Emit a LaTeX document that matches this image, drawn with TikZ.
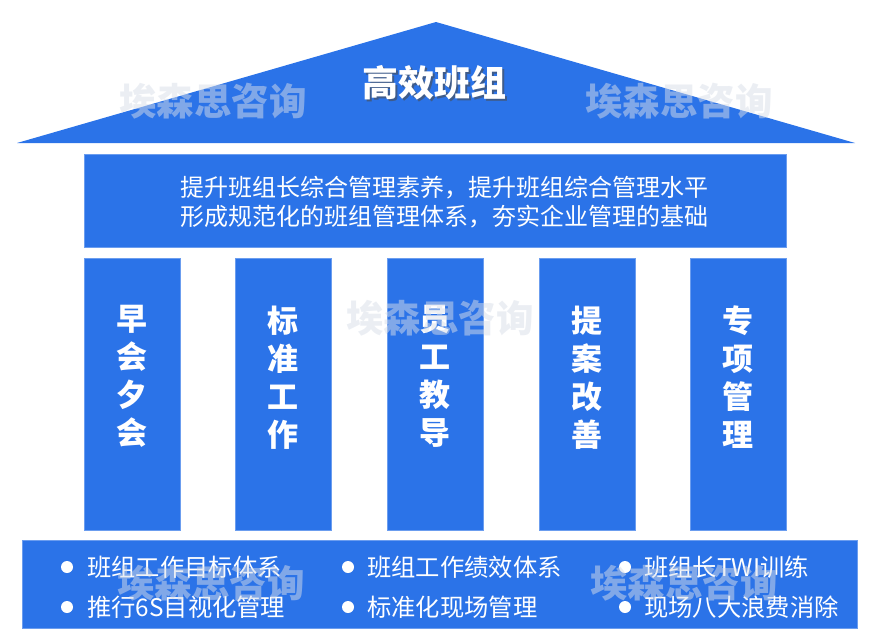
\documentclass[tikz,border=0pt]{standalone}
\usepackage{fontspec}
\setmainfont{Noto Sans CJK SC}
\newfontfamily\cjk{Noto Sans CJK SC}
\definecolor{roofblue}{HTML}{2B73E8}
\definecolor{wmgray}{HTML}{D8DEE8}
\tikzset{
  blk/.style={fill=roofblue, draw=roofblue!70!white, line width=0.6pt, inner sep=0pt, anchor=north west},
  pillartxt/.style={text=white, font=\cjk\bfseries\fontsize{31}{38}\selectfont, align=center, anchor=north},
  bandtxt/.style={text=white, font=\cjk\fontsize{24}{28.5}\selectfont, align=center},
  itemtxt/.style={text=white, font=\cjk\fontsize{24.3}{28}\selectfont, anchor=west, inner sep=0pt},
  dot/.style={circle, fill=white, minimum size=12pt, inner sep=0pt},
  wmark/.style={text=wmgray, opacity=0.5, font=\cjk\bfseries\fontsize{37.5}{40}\selectfont}
}
\begin{document}
\begin{tikzpicture}[x=1pt,y=-1pt]
\useasboundingbox (0,0) rectangle (877,637);
% roof
\fill[roofblue] (17,143) -- (436,22) -- (855,143) -- cycle;
\node[text=black!70, opacity=0.6, font=\cjk\bfseries\fontsize{36}{40}\selectfont] (titleshadow) at (436,85) {高效班组};
\node[text=white, font=\cjk\bfseries\fontsize{36}{40}\selectfont] (title) at (434,83) {高效班组};
% band
\node[blk, minimum width=702pt, minimum height=93pt] (band) at (84,154) {};
\node[bandtxt] (bandtext) at (444,202) {提升班组长综合管理素养，提升班组综合管理水平\\形成规范化的班组管理体系，夯实企业管理的基础};
% pillars
\foreach \x/\n in {84/p1,235/p2,387/p3,539/p4,690/p5}{
  \node[blk, minimum width=96pt, minimum height=272pt] (\n) at (\x,258) {};
}
\node[pillartxt] (t1) at ([yshift=-44pt]p1.north) {早\\会\\夕\\会};
\node[pillartxt] (t2) at ([yshift=-44pt]p2.north) {标\\准\\工\\作};
\node[pillartxt] (t3) at ([yshift=-44pt]p3.north) {员\\工\\教\\导};
\node[pillartxt] (t4) at ([yshift=-44pt]p4.north) {提\\案\\改\\善};
\node[pillartxt] (t5) at ([yshift=-44pt]p5.north) {专\\项\\管\\理};
% base
\node[blk, minimum width=835pt, minimum height=88pt] (base) at (22,540) {};
\node[dot] (d1) at (67,567) {};
\node[itemtxt] (i1) at (87,567) {班组工作目标体系};
\node[dot] (d2) at (67,607) {};
\node[itemtxt] (i2) at (87,607) {推行6S目视化管理};
\node[dot] (d3) at (348,567) {};
\node[itemtxt] (i3) at (367,567) {班组工作绩效体系};
\node[dot] (d4) at (348,607) {};
\node[itemtxt] (i4) at (367,607) {标准化现场管理};
\node[dot] (d5) at (625,567) {};
\node[itemtxt] (i5) at (644,567) {班组长TWI训练};
\node[dot] (d6) at (625,607) {};
\node[itemtxt] (i6) at (644,607) {现场八大浪费消除};
% watermarks
\node[wmark] (w1) at (213,101) {埃森思咨询};
\node[wmark] (w2) at (679,101) {埃森思咨询};
\node[wmark] (w3) at (440,318) {埃森思咨询};
\node[wmark] (w4) at (211,583) {埃森思咨询};
\node[wmark] (w5) at (684,583) {埃森思咨询};
\end{tikzpicture}
\end{document}
